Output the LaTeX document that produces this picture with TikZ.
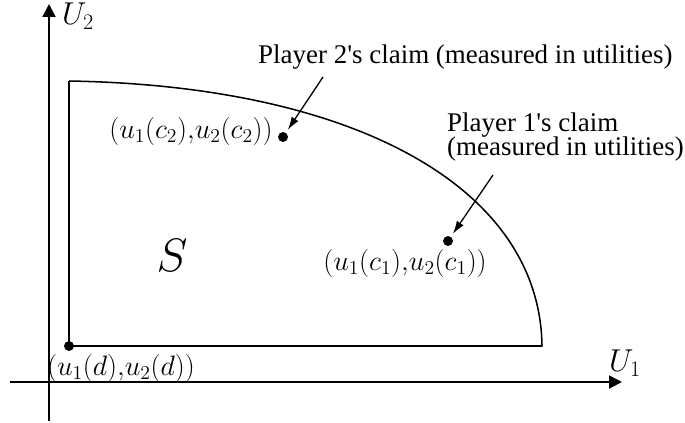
\RequirePackage{fix-cm}
\documentclass[tikz,border=0pt]{standalone}
\usepackage{fontspec}
\setmainfont{Liberation Serif}
\usetikzlibrary{arrows.meta}

\begin{document}
\begin{tikzpicture}[x=0.03cm,y=-0.03cm]

\tikzset{dot/.style = {shape=circle,fill,inner sep=0pt,minimum size=8.5pt}}
\tikzset{lbl/.style = {inner sep=0pt,font=\fontsize{23}{21}\selectfont}}
\tikzset{mlbl/.style = {inner sep=0pt,font=\fontsize{24}{24}\selectfont}}
\tikzset{axis/.style = {-{Triangle[length=11pt,width=11pt]},line width=1.7pt}}
\tikzset{claim/.style = {-{Latex[length=11pt,width=7pt]},line width=1.1pt,shorten >=3pt}}
\tikzset{region/.style = {line width=1.3pt,line join=round}}

\useasboundingbox (0,0) rectangle (685,422);

% axes
\coordinate (o1) at (10,382);
\coordinate (x1) at (622,382);
\coordinate (o2) at (49,421);
\coordinate (y2) at (49,4);
\draw[axis] (o1) -- (x1);
\draw[axis] (o2) -- (y2);
\node[lbl,font=\fontsize{27}{27}\selectfont] (U1) at (625,363) {$U_1$};
\node[lbl,font=\fontsize{27}{27}\selectfont] (U2) at (78,16) {$U_2$};

% points
\node[dot] (d) at (69,346) {};
\node[dot] (c2) at (283,137) {};
\node[dot] (c1) at (448,241) {};
\coordinate (tl) at (69,81);
\coordinate (br) at (542,346);

% region S
\draw[region] (tl) -- (d.center) -- (br)
  .. controls (540,190) and (360,86) .. (tl);
\node[lbl,font=\fontsize{40}{40}\selectfont] (S) at (172,255) {$S$};

% labels
\node[mlbl] (ld) at (121,368) {$(u_1(d){,}u_2(d))$};
\node[mlbl] (lc2) at (191,131) {$(u_1(c_2){,}u_2(c_2))$};
\node[mlbl] (lc1) at (405,263) {$(u_1(c_1){,}u_2(c_1))$};
\node[lbl,anchor=west] (p2) at (258,57) {Player 2\textquotesingle s claim (measured in utilities)};
\node[lbl,anchor=west,align=left] (p1) at (447,137) {Player 1\textquotesingle s claim\\(measured in utilities)};

%arrows
\coordinate (s2) at (323,77);
\coordinate (s1) at (493,175);
\draw[claim] (s2) -- (c2);
\draw[claim] (s1) -- (c1);

\end{tikzpicture}
\end{document}
